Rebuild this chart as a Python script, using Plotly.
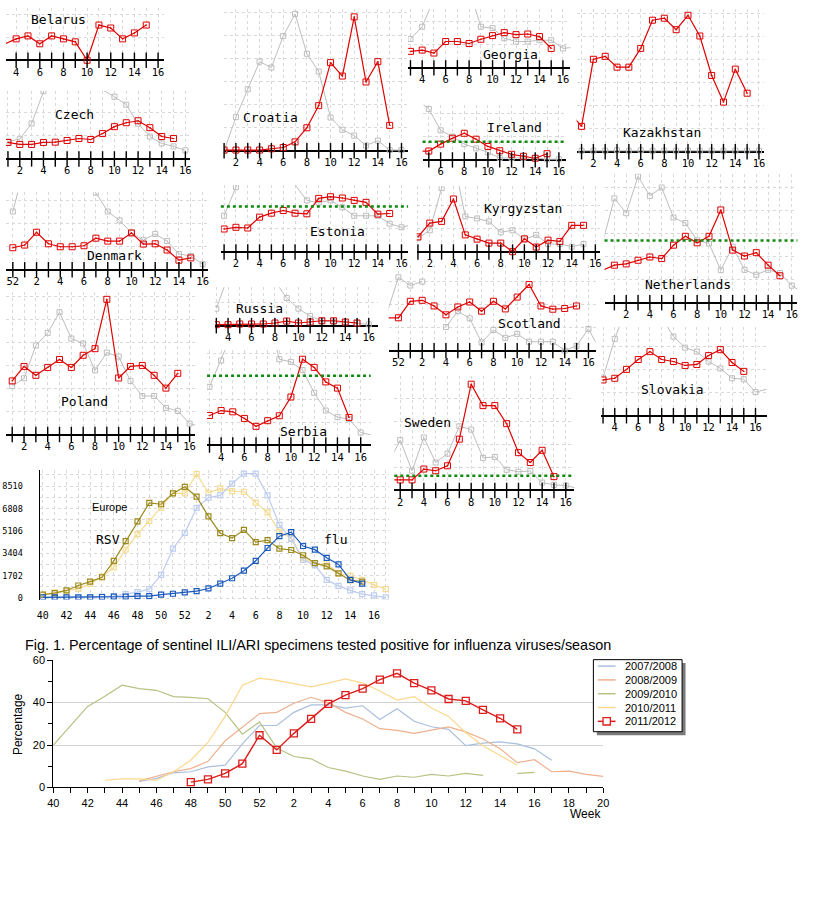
import math
import plotly.graph_objects as go

W, H = 830, 900
MONO = "DejaVu Sans Mono"
SANS = "Liberation Sans"
GRID = "#d9d9d9"

# -------------------- country panels --------------------
# values = height above the axis (panel units), first value belongs to the start week (52 -> 0)
BELARUS_RED = [16.3, 21.7, 24.7, 16.7, 24.7, 21.7, 18.7, 0, 35.7, 32.7, 21.7, 27.7, 35.7]

CZECH_RED = [16.7, 14.7, 14.7, 16.7, 17, 18.7, 20.7, 19.7, 25.7, 32.7, 36.7, 38.7, 31.7, 22.7, 20.7]
CZECH_GRAY = [17.7, 20, 36, 68.7, 100, 110, 105, 90, 70, 63, 55, 35.7, 22.7, 15.7, 12.7, 8.7]

DENMARK_RED = [22.3, 25, 38, 26.3, 23.3, 23.3, 24.3, 32, 29, 29, 37.3, 26, 26.3, 20, 9.7, 12]
DENMARK_GRAY = [59, 105, 110, 115, 118, 110, 95, 78, 59, 50, 37.3, 30, 36.3, 29, 16, 14, 5.7]

CROATIA_RED = [0.7, 0.7, 0.7, 0.7, 2, 3.3, 9, 23.3, 45.7, 89.3, 75.7, 135.7, 69.7, 90.3, 25.7]
CROATIA_GRAY = [0, 34, 62.3, 90.3, 84.3, 116.3, 138.7, 98.3, 80.3, 33.7, 21.3, 15.3, 5.3, 10.3, 0.7, 0.7]

ESTONIA_RED = [23.3, 25, 24.3, 35.3, 39.3, 42, 39.3, 38.7, 54.3, 56, 54.7, 52.3, 50.3, 38.3, 39]
ESTONIA_GRAY = [36.7, 65.7, 90, 100, 100, 85, 68, 52.3, 50, 52.3, 45.3, 36.7, 36.7, 36.7, 28.7, 25, 28]

GEORGIA_RED = [16.7, 18, 15, 26.7, 26.7, 24.7, 29, 32.7, 35.7, 33.7, 34.3, 31.7, 19.7]
GEORGIA_GRAY = [29.3, 41.7, 70, 80, 85, 80, 41.7, 40.3, 30, 26.7, 26.7, 28, 28, 19.7, 21]

KAZAKHSTAN_RED = [39.7, 25.7, 93.7, 96.7, 85.7, 85.7, 104.7, 133.3, 135.3, 123.7, 138.3, 117.3, 77.3, 50.3, 83.7, 59.3]
KAZAKHSTAN_GRAY = [1, 1, 1, 1.5, 1, 1.5, 1, 1, 1, 1, 1, 1, 1, 1, 1, 1]

IRELAND_RED = [9, 9, 16, 22, 27, 21, 13.7, 9.3, 5.7, 3.7, 1.7, 6.3]
IRELAND_GRAY = [61, 51.7, 30, 23.7, 16, 11.7, 7.7, 2, 2, 2, 2, 0.7, 0.7]

KYRGYZSTAN_RED = [15.3, 29.3, 31, 53.7, 17.3, 13, 9, 9, 0.3, 13.3, 5, 12, 10.7, 27, 27]
KYRGYZSTAN_GRAY = [14, 22, 64.7, 95, 36, 34, 31, 20, 22, 12.7, 17.3, 8, 8, 5.3, 8]

NETHERLANDS_RED = [33, 38, 39.3, 43, 46.3, 44.7, 58.3, 67.3, 60.7, 67.3, 94, 53.3, 47.3, 50.7, 38, 27.3]
NETHERLANDS_GRAY = [60.7, 105.7, 90.7, 128, 108.3, 116.7, 86.3, 80.7, 63.3, 60, 33, 56.7, 33.3, 28.3, 33.3, 30, 17.3, 10]

RUSSIA_RED = [1, 1, 1.7, 1.7, 1.7, 2.7, 4.7, 2.7, 3.7, 5, 5, 3.7, 2.7]
RUSSIA_GRAY = [17.3, 50, 60, 65, 55, 45, 28, 17.3, 9.7, 5, 4, 3.5, 2.5, 1.3]

SERBIA_RED = [30, 35, 33.7, 27, 19, 24.7, 29.7, 48.7, 87, 78.7, 64, 57.7, 28]
SERBIA_GRAY = [59, 85.7, 115, 130, 140, 135, 87, 84.3, 76, 53, 35, 28.3, 26.3, 12.7, 10]

POLAND_RED = [54.3, 69, 60, 68, 76, 68, 80.3, 87, 137, 57.3, 69, 70, 60, 47, 62]
POLAND_GRAY = [49, 57, 90.3, 103, 124, 97.3, 92.3, 65, 83, 79, 54.3, 39, 39, 27, 24, 11, 8]

SCOTLAND_RED = [33.3, 33.3, 50, 51, 45.3, 36.3, 44.3, 49.3, 40, 50, 42.3, 54.3, 67, 45.3, 42, 42.7, 45.3]
SCOTLAND_GRAY = [36.7, 74.3, 66, 70, None, 24, 40, 32.7, 8.3, 21, 13, 17, 9, 9, 9, 0, 5, 22, 0]

SLOVAKIA_RED = [36.3, 38, 47, 57, 65, 57, 55, 51, 52, 61, 67, 54, 45]
SLOVAKIA_GRAY = [38.7, 78, 110, 120, 115, 100, 80.3, 69, 65, 55, 48, 38, 37, 24, 27]

SWEDEN_RED = [10.7, 10.7, 10.7, 21.7, 20, 25, 52, 107.7, 86, 86, 67.7, 38.3, 28.3, 40.7, 14]
SWEDEN_GRAY = [27.7, 51, 20, 53.7, 28.3, 37.3, 65, 61.7, 33, 34, 21, 19, 19.7, 8, 5.7, 5, 2]

# box = (left, right, top, axis) in pixels, scale = (week, pixel of that week, pixels per week)
PANELS = [
    dict(name="Belarus", red=(3, BELARUS_RED), gray=None, box=(0, 160, 2, 55), scale=(10, 82.3, 12), label=(53, 14), limit=None),
    dict(name="Czech", red=(1, CZECH_RED), gray=(1, CZECH_GRAY), box=(0, 187, 86, 155), scale=(2, 14, 12), label=(70, 110), limit=None),
    dict(name="Denmark", red=(0, DENMARK_RED), gray=(0, DENMARK_GRAY), box=(0, 205, 189, 267.3), scale=(2, 31, 12.04), label=(110, 253), limit=None),
    dict(name="Croatia", red=(1, CROATIA_RED), gray=(1, CROATIA_GRAY), box=(221, 408, 3, 146.7), scale=(2, 233.3, 12), label=(268, 113), limit=None),
    dict(name="Estonia", red=(1, ESTONIA_RED), gray=(1, ESTONIA_GRAY), box=(218, 408, 181.7, 249.3), scale=(2, 233.3, 12), label=(336, 229), limit=46),
    dict(name="Georgia", red=(3, GEORGIA_RED), gray=(3, GEORGIA_GRAY), box=(408, 572.7, 3, 62.7), scale=(4, 422.3, 11.9), label=(512, 49), limit=None),
    dict(name="Kazakhstan", red=(0, KAZAKHSTAN_RED), gray=(1, KAZAKHSTAN_GRAY), box=(579, 769, 3, 147.7), scale=(2, 596, 12), label=(666, 128), limit=None),
    dict(name="Ireland", red=(4, IRELAND_RED), gray=(4, IRELAND_GRAY), box=(422.7, 568, 100, 156), scale=(6, 441, 12), label=(516, 123), limit=18.3),
    dict(name="Kyrgyzstan", red=(1, KYRGYZSTAN_RED), gray=(1, KYRGYZSTAN_GRAY), box=(416.7, 603, 182.7, 249.3), scale=(2, 430, 12), label=(525, 205), limit=None),
    dict(name="Netherlands", red=(0, NETHERLANDS_RED), gray=(0, NETHERLANDS_GRAY), box=(607.3, 803, 170, 300.7), scale=(2, 629.3, 12), label=(692, 282), limit=63),
    dict(name="Russia", red=(3, RUSSIA_RED), gray=(3, RUSSIA_GRAY), box=(212, 377.7, 285, 324), scale=(4, 225.3, 11.9), label=(257, 307), limit=None),
    dict(name="Serbia", red=(3, SERBIA_RED), gray=(3, SERBIA_GRAY), box=(204, 370, 348.3, 445), scale=(4, 218.3, 11.8), label=(302, 431), limit=70.3),
    dict(name="Poland", red=(1, POLAND_RED), gray=(1, POLAND_GRAY), box=(0, 192, 290, 434.3), scale=(2, 18.3, 12), label=(80, 401), limit=None),
    dict(name="Scotland", red=(-1, SCOTLAND_RED), gray=(-1, SCOTLAND_GRAY), box=(388.3, 598.3, 262, 349.3), scale=(2, 422.3, 12.05), label=(531, 322), limit=None),
    dict(name="Slovakia", red=(3, SLOVAKIA_RED), gray=(3, SLOVAKIA_GRAY), box=(604, 771.7, 325, 415.3), scale=(4, 617.7, 11.9), label=(676, 389), limit=None),
    dict(name="Sweden", red=(1, SWEDEN_RED), gray=(1, SWEDEN_GRAY), box=(394, 576.7, 375, 491), scale=(2, 400, 12), label=(428, 422), limit=15),
]

# -------------------- Europe RSV / flu --------------------
EUROPE_WEEKS = list(range(40, 53)) + list(range(1, 18))
RSV_NOW = [250, 375, 575, 950, 1250, 1577, 2828, 4330, 5832, 7234, 7134, 7960, 8460,
           7709, 6207, 4931, 4555, 5181, 4255, 4405, 3755, 3654, 3254, 2653, 2403, 1877, 1352, 1252]
RSV_PREV = [250, 425, 550, 700, 1075, 1625, 2330, 3680, 4856, 5857, 6883, 7985, 7960,
            9436, 8010, 8335, 8135, 8085, 7259, 6508, 5056, 4555, 3054, 2503, 2628, 1877, 1677, 1377, 1001, 676]
FLU_NOW = [50, 50, 50, 50, 50, 75, 100, 100, 150, 150, 250, 325, 425,
           525, 726, 1101, 1502, 2077, 2828, 3805, 4706, 5006, 3955, 3680, 3054, 2553, 1377, 1101]
FLU_PREV = [50, 50, 50, 50, 75, 100, 150, 300, 450, 676, 1752, 3755, 4956,
            6858, 7634, 7809, 8710, 9461, 9461, 7809, 5557, 4505, 2903, 2503, 1377, 926, 576, 300, 200, 50]
EUROPE_YTICKS = [0, 1702, 3404, 5106, 6808, 8510]

# -------------------- Fig. 1 --------------------
SEASONS = ["2007/2008", "2008/2009", "2009/2010", "2010/2011", "2011/2012"]
SEASON_START = {"2007/2008": 45, "2008/2009": 45, "2009/2010": 40, "2010/2011": 43, "2011/2012": 48}
SEASON_VALUES = {
    "2007/2008": [2.8, 4.3, 6.9, 7.4, 9.7, 10.5, 20.5, 29.2,
                  29.2, 35.4, 38.9, 38.9, 37.4, 38.5, 32, 37.1, 31.2, 28.6, 27.4, 19.7, 20.9, 21.5, 20.5, 18.2, 12.8],
    "2008/2009": [3.1, 5.1, 7.4, 8.9, 12.3, 22, 28.2, 34.8,
                  35.4, 39.7, 42.5, 40, 35.4, 32.3, 27.7, 26.9, 25.5, 27.1, 28.5, 26.2, 22.8, 18.2, 11.7, 13.1,
                  7.4, 7.7, 6.2, 5.2],
    "2009/2010": [20, 29, 38.2, 43, 48.2, 46.6, 45.8, 42.8, 42.5, 41.8, 35.4, 25.1, 30.9,
                  18.6, 14.6, 13.5, 9.4, 7.7, 5.4, 3.8, 5.4, 4.8, 6.2, 5.4, 6.6, 5.7, None, 6.6, 7.1],
    "2010/2011": [3.4, 4, 4, 3.4, 7.4, 12.8, 21.2, 33.5, 48.2, 51.5,
                  50.5, 48.9, 47.4, 49.2, 51.2, 49.2, 45.5, 41.2, 42.8, 37.4, 33.5, 25.8, 19.7, 15.1, 10.5],
    "2011/2012": [2.5, 3.8, 6.6, 11.2, 24.6,
                  17.7, 25.5, 32.3, 39.4, 43.5, 46.6, 50.8, 53.8, 49.2, 45.8, 41.7, 40.8, 36.6, 32.6, 27.4],
}
SEASON_COLORS = {"2007/2008": "#a9bfdc", "2008/2009": "#eeb08e", "2009/2010": "#b4c283",
                 "2010/2011": "#fbd88c", "2011/2012": "#dd1c1c"}


def week_label(i):
    w = i if i >= 1 else 52 + i
    return str(w) if w % 2 == 0 else ""


def note(text, x, y, font, **kw):
    # texte placé en pixels de la page
    d = dict(text=text, x=x / W, y=1 - y / H, xref="paper", yref="paper", showarrow=False,
             xanchor="center", yanchor="middle", font=font)
    d.update(kw)
    return d


fig = go.Figure()
layout = dict(width=W, height=H, margin=dict(l=0, r=0, t=0, b=0), autosize=False,
              paper_bgcolor="white", plot_bgcolor="rgba(0,0,0,0)", showlegend=False,
              annotations=[], shapes=[])

#--------------------Petits graphiques par pays--------------------
for n, p in enumerate(PANELS, start=1):
    left, right, top, axis = p["box"]
    w0, p0, step = p["scale"]
    x_range = [w0 + (left - p0) / step, w0 + (right - p0) / step]
    ticks = list(range(math.ceil(x_range[0]), math.floor(x_range[1]) + 1))
    xa, ya = f"x{n}", f"y{n}"
    layout[f"xaxis{n}"] = dict(domain=[left / W, right / W], range=x_range, anchor=ya,
                               tickvals=ticks, ticktext=[week_label(t) for t in ticks], ticks="",
                               showline=False, showgrid=True, gridcolor=GRID, griddash="3px,3px",
                               zeroline=False, tickfont=dict(family=MONO, size=10.5, color="black"))
    layout[f"yaxis{n}"] = dict(domain=[1 - (axis + 4) / H, 1 - top / H], range=[-4, axis - top], anchor=xa,
                               showticklabels=False, tick0=0, dtick=23.3, showgrid=True, gridcolor=GRID,
                               griddash="3px,3px", zeroline=True, zerolinecolor="black", zerolinewidth=1.5)
    if p["gray"]:
        s, vals = p["gray"]
        fig.add_trace(go.Scatter(x=[s + k for k in range(len(vals))], y=vals, xaxis=xa, yaxis=ya,
                                 mode="lines+markers", hoverinfo="skip",
                                 line=dict(color="#bdbdbd", width=1),
                                 marker=dict(symbol="square-open", size=5, color="#bdbdbd")))
    s, vals = p["red"]
    fig.add_trace(go.Scatter(x=[s + k for k in range(len(vals))], y=vals, xaxis=xa, yaxis=ya,
                             mode="lines+markers", hoverinfo="skip",
                             line=dict(color="#e00000", width=1.2),
                             marker=dict(symbol="square-open-dot", size=6, color="#e00000")))
    fig.add_trace(go.Scatter(x=ticks, y=[0] * len(ticks), xaxis=xa, yaxis=ya, mode="markers",
                             hoverinfo="skip", cliponaxis=False,
                             marker=dict(symbol="line-ns", size=11, line=dict(width=1.4, color="black"))))
    if p["limit"] is not None:
        layout["shapes"].append(dict(type="line", xref=f"{xa} domain", x0=0, x1=1, yref=ya,
                                     y0=p["limit"], y1=p["limit"],
                                     line=dict(color="#0f8a0f", width=2.5, dash="dot")))
    lx, ly = p["label"]
    layout["annotations"].append(note(p["name"], lx, ly, dict(family=MONO, size=13, color="black")))

#--------------------Europe RSV / flu--------------------
n = len(PANELS) + 1
xa, ya = f"x{n}", f"y{n}"
eu_idx = list(range(40, 40 + len(EUROPE_WEEKS)))
layout[f"xaxis{n}"] = dict(domain=[35 / W, 389 / W], range=[39.8, 69.3], anchor=ya,
                           tickvals=eu_idx, ticktext=[str(w) if w % 2 == 0 else "" for w in EUROPE_WEEKS],
                           ticks="", showgrid=True, gridcolor=GRID, griddash="3px,3px", zeroline=False,
                           ticklabelstandoff=8, tickfont=dict(family=MONO, size=10, color="black"))
layout[f"yaxis{n}"] = dict(domain=[1 - 601.6 / H, 1 - 470 / H], range=[-120, 9760], anchor=xa,
                           tickvals=EUROPE_YTICKS, showgrid=True, gridcolor=GRID, griddash="3px,3px",
                           minor=dict(tick0=0, dtick=851, showgrid=True, gridcolor=GRID, griddash="3px,3px"),
                           zeroline=False, showline=True, linecolor="black", linewidth=1,
                           ticklabelstandoff=15, tickfont=dict(family=MONO, size=8.5, color="black"))
for vals, color in [(RSV_PREV, "#f6db92"), (FLU_PREV, "#bfcdf0"), (RSV_NOW, "#9c8a1e"), (FLU_NOW, "#1c5bbd")]:
    fig.add_trace(go.Scatter(x=eu_idx[:len(vals)], y=vals, xaxis=xa, yaxis=ya, mode="lines+markers",
                             hoverinfo="skip", line=dict(color=color, width=1.2),
                             marker=dict(symbol="square-open", size=5, color=color, line=dict(width=1.2))))
layout["annotations"] += [
    note("Europe", 105, 508, dict(family=SANS, size=11, color="black")),
    note("RSV", 103, 541, dict(family=MONO, size=13, color="black")),
    note("flu", 334, 541, dict(family=MONO, size=13, color="black")),
]

#--------------------Fig. 1--------------------
n += 1
xa, ya = f"x{n}", f"y{n}"
fig_idx = list(range(40, 73))
layout[f"xaxis{n}"] = dict(domain=[48 / W, 606 / W], range=[40, 72], anchor=ya, tickvals=fig_idx,
                           ticktext=[week_label(i - 52 if i > 52 else i) for i in fig_idx],
                           ticks="outside", ticklen=5, tickcolor="black", showline=True, linecolor="black",
                           showgrid=False, zeroline=False, tickfont=dict(family=SANS, size=11, color="black"))
layout[f"yaxis{n}"] = dict(domain=[1 - 792 / H, 1 - 663 / H], range=[0, 60], anchor=xa, dtick=20,
                           ticks="outside", ticklen=5, tickcolor="black", showline=True, linecolor="black",
                           minor=dict(dtick=10, ticks="outside", ticklen=4, tickcolor="black"),
                           showgrid=True, gridcolor="#d3d3d3", zeroline=False,
                           tickfont=dict(family=SANS, size=11, color="black"))
for season in SEASONS:
    vals = SEASON_VALUES[season]
    start = SEASON_START[season]
    last = season == SEASONS[-1]
    fig.add_trace(go.Scatter(x=[start + k for k in range(len(vals))], y=vals, xaxis=xa, yaxis=ya, name=season,
                             mode="lines+markers" if last else "lines", hoverinfo="skip",
                             line=dict(color=SEASON_COLORS[season], width=1.4 if last else 1.2),
                             marker=dict(symbol="square-open", size=7, color=SEASON_COLORS[season],
                                         line=dict(width=1.3))))

# légende dessinée à la main (ombre + cadre + échantillons)
layout["shapes"] += [
    dict(type="rect", xref="paper", yref="paper", x0=599.5 / W, x1=689.5 / W, y0=1 - 739 / H, y1=1 - 666 / H,
         fillcolor="#7a7a7a", line=dict(width=0)),
    dict(type="rect", xref="paper", yref="paper", x0=596 / W, x1=686 / W, y0=1 - 735.5 / H, y1=1 - 662.5 / H,
         fillcolor="white", line=dict(color="black", width=1)),
]
for i, season in enumerate(SEASONS):
    yc = 1 - (669 + 14 * i) / H
    layout["shapes"].append(dict(type="line", xref="paper", yref="paper", x0=600.5 / W, x1=618.5 / W,
                                 y0=yc, y1=yc, line=dict(color=SEASON_COLORS[season], width=1.5)))
    layout["annotations"].append(note(season, 626.5, 669 + 14 * i, dict(family=SANS, size=11, color="black"),
                                      xanchor="left"))
yc = 669 + 14 * 4
layout["shapes"].append(dict(type="rect", xref="paper", yref="paper", x0=605.8 / W, x1=613.2 / W,
                             y0=1 - (yc + 3.7) / H, y1=1 - (yc - 3.7) / H, fillcolor="white",
                             line=dict(color=SEASON_COLORS["2011/2012"], width=1.3)))

layout["annotations"] += [
    note("Fig. 1. Percentage of sentinel ILI/ARI specimens tested positive for influenza viruses/season",
         17, 648, dict(family=SANS, size=14.4, color="black"), xanchor="left"),
    note("Week", 588, 819, dict(family=SANS, size=12, color="black")),
    note("Percentage", 12, 728, dict(family=SANS, size=12, color="black"), textangle=-90),
]

fig.update_layout(**layout)
fig.write_html("out.html", config={"displayModeBar": False},
               post_script="document.body.style.margin='0';")
